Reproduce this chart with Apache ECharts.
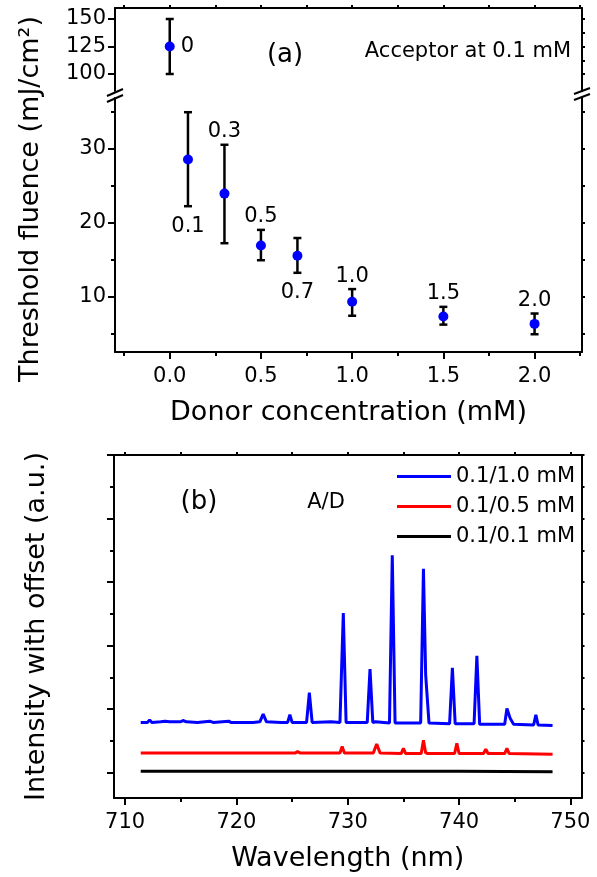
<!DOCTYPE html>
<html>
<head>
<meta charset="utf-8">
<script src="https://cdn.jsdelivr.net/npm/echarts@6/dist/echarts.min.js"></script>
<style>
  html, body { margin: 0; padding: 0; background: #fff; }
  #chart { width: 597px; height: 877px; }
</style>
</head>
<body>
<div id="chart"></div>
<script>
const FONT = 'DejaVu Sans';

// panel (a): threshold fluence vs donor concentration
const donor = [0, 0.1, 0.3, 0.5, 0.7, 1.0, 1.5, 2.0];
const fluence = [125, 28.5, 23.9, 16.9, 15.5, 9.3, 7.3, 6.3];
const errLow = [100, 22.2, 17.2, 14.9, 13.2, 7.4, 6.2, 4.9];
const errHigh = [150, 34.9, 30.5, 19.0, 17.9, 11.0, 8.6, 7.7];
const pointLabels = ['0', '0.1', '0.3', '0.5', '0.7', '1.0', '1.5', '2.0'];
const labelSide = ['right', 'bottom', 'top', 'top', 'bottom', 'top', 'top', 'top'];

const aXTicks = [0, 0.5, 1.0, 1.5, 2.0];
const aXMinor = [-0.25, 0.25, 0.75, 1.25, 1.75, 2.25];
const aXTop = [-0.25, 0, 0.25, 0.5, 0.75, 1.0, 1.25, 1.5, 1.75, 2.0, 2.25];
const aYUpperTicks = [100, 125, 150];
const aYUpperRight = [100, 112.5, 125, 137.5, 150];
const aYLowerTicks = [10, 20, 30];
const aYLowerMinor = [5, 15, 25, 35];
const aYLowerRight = [5, 10, 15, 20, 25, 30, 35];

// panel (b): emission spectra, [wavelength nm, intensity with offset]
const spec10 = [
  [711.4, 0.79], [712.0, 0.79], [712.2, 0.83], [712.4, 0.79], [713.2, 0.80], [713.6, 0.81],
  [714.0, 0.80], [715.0, 0.80], [715.2, 0.82], [715.5, 0.80], [716.5, 0.79], [717.6, 0.81],
  [717.9, 0.79], [719.3, 0.81], [719.5, 0.79], [720.5, 0.79], [721.5, 0.79], [722.1, 0.80],
  [722.4, 0.92], [722.7, 0.80], [724.0, 0.79], [724.6, 0.79], [724.8, 0.91], [725.0, 0.79],
  [726.3, 0.79], [726.55, 1.26], [726.8, 0.79], [728.5, 0.80], [729.3, 0.79], [729.6, 2.51],
  [729.85, 0.79], [731.75, 0.79], [732.0, 1.63], [732.25, 0.79], [732.5, 0.80], [733.75, 0.78],
  [734.0, 3.42], [734.25, 0.78], [736.55, 0.78], [736.8, 3.21], [737.0, 1.54], [737.3, 0.78],
  [739.15, 0.77], [739.4, 1.65], [739.65, 0.77], [741.35, 0.77], [741.6, 1.84], [741.85, 0.76],
  [744.1, 0.76], [744.3, 1.01], [744.6, 0.85], [744.9, 0.76], [746.7, 0.75], [746.9, 0.91],
  [747.1, 0.75], [748.4, 0.74]
];
const spec05 = [
  [711.4, 0.31], [715.0, 0.31], [720.0, 0.31], [725.3, 0.31], [725.5, 0.33], [725.7, 0.31],
  [727.9, 0.31], [728.0, 0.32], [728.2, 0.31], [729.3, 0.31], [729.5, 0.41], [729.7, 0.31],
  [732.3, 0.31], [732.6, 0.45], [732.9, 0.31], [734.8, 0.30], [735.0, 0.38], [735.2, 0.30],
  [736.6, 0.30], [736.8, 0.51], [737.0, 0.31], [737.2, 0.30], [739.6, 0.30], [739.8, 0.46],
  [740.0, 0.30], [742.2, 0.30], [742.4, 0.37], [742.6, 0.30], [744.1, 0.30], [744.3, 0.38],
  [744.5, 0.30], [748.4, 0.29]
];
const spec01 = [[711.4, 0.02], [720.0, 0.02], [730.0, 0.02], [740.0, 0.02], [748.4, 0.015]];
const specNames = ['0.1/1.0 mM', '0.1/0.5 mM', '0.1/0.1 mM'];
const specColors = ['#0000ff', '#ff0000', '#000000'];

const bXTicks = [710, 720, 730, 740, 750];
const bXMinor = [715, 725, 735, 745];
const bXTop = [710, 715, 720, 725, 730, 735, 740, 745, 750];
const bYTicks = [0, 1, 2, 3, 4, 5];
const bYMinor = [0.5, 1.5, 2.5, 3.5, 4.5];
const bYRight = [0, 0.5, 1, 1.5, 2, 2.5, 3, 3.5, 4, 4.5, 5];

function errData(idx) {
  return idx.map(i => [donor[i], errLow[i], errHigh[i], fluence[i], i]);
}

function drawErr(params, api) {
  const i = api.value(4);
  const lo = api.coord([api.value(0), api.value(1)]);
  const hi = api.coord([api.value(0), api.value(2)]);
  const mid = api.coord([api.value(0), api.value(3)]);
  const w = 4;
  const st = { stroke: '#000', lineWidth: 2.5 };
  let tx, ty, align = 'center';
  if (labelSide[i] === 'top') { tx = hi[0]; ty = hi[1] - 13; }
  else if (labelSide[i] === 'bottom') { tx = lo[0]; ty = lo[1] + 20; }
  else { tx = mid[0] + 11; ty = mid[1]; align = 'left'; }
  return {
    type: 'group',
    children: [
      { type: 'line', shape: { x1: lo[0], y1: lo[1], x2: hi[0], y2: hi[1] }, style: st },
      { type: 'line', shape: { x1: lo[0] - w, y1: lo[1], x2: lo[0] + w, y2: lo[1] }, style: st },
      { type: 'line', shape: { x1: hi[0] - w, y1: hi[1], x2: hi[0] + w, y2: hi[1] }, style: st },
      {
        type: 'text', x: tx, y: ty,
        style: {
          text: pointLabels[i], fill: '#000', font: '21px ' + FONT,
          align: align, textAlign: align, verticalAlign: 'middle', textVerticalAlign: 'middle'
        }
      }
    ]
  };
}

const line = { show: true, onZero: false, lineStyle: { color: '#000', width: 2 } };
const noLine = { show: false, onZero: false };

function axis(grid, pos, min, max, ticks, len, labels, showLine, margin) {
  return {
    type: 'value', gridIndex: grid, position: pos, min: min, max: max,
    axisLine: showLine ? line : noLine,
    splitLine: { show: false },
    axisTick: ticks ? { show: true, customValues: ticks, length: len, lineStyle: { color: '#000', width: 2 } } : { show: false },
    axisLabel: labels ? { show: true, customValues: labels, color: '#000', fontSize: 21, fontFamily: FONT, margin: margin } : { show: false }
  };
}

const aXMin = -0.3, aXMax = 2.26;

const xAxes = [
  axis(0, 'top', aXMin, aXMax, aXTop, 3, null, true),             // 0 upper top border
  axis(1, 'bottom', aXMin, aXMax, aXTicks, 7, aXTicks, true, 14), // 1 lower bottom
  axis(1, 'bottom', aXMin, aXMax, aXMinor, 4, null, false),       // 2 lower minor
  axis(2, 'bottom', 709, 751, bXTicks, 7, bXTicks, true, 14),     // 3 (b) bottom
  axis(2, 'bottom', 709, 751, bXMinor, 4, null, false),           // 4 (b) minor
  axis(2, 'top', 709, 751, bXTop, 3, null, true)                  // 5 (b) top border
];
xAxes[1].axisLabel.formatter = v => Number(v).toFixed(1);
xAxes[1].name = 'Donor concentration (mM)';
xAxes[3].name = 'Wavelength (nm)';
[xAxes[1], xAxes[3]].forEach(a => {
  a.nameLocation = 'middle';
  a.nameGap = 47;
  a.nameTextStyle = { color: '#000', fontSize: 27, fontFamily: FONT };
});

const yAxes = [
  axis(0, 'left', 84.55, 160, aYUpperTicks, 7, aYUpperTicks, true, 9),  // 0
  axis(0, 'right', 84.55, 160, aYUpperRight, 3, null, true),            // 1
  axis(1, 'left', 2.5, 36.82, aYLowerTicks, 7, aYLowerTicks, true, 9),  // 2
  axis(1, 'left', 2.5, 36.82, aYLowerMinor, 4, null, false),            // 3
  axis(1, 'right', 2.5, 36.82, aYLowerRight, 3, null, true),            // 4
  axis(2, 'left', -0.4, 5, bYTicks, 7, null, true),                     // 5
  axis(2, 'left', -0.4, 5, bYMinor, 4, null, false),                    // 6
  axis(2, 'right', -0.4, 5, bYRight, 3, null, true)                     // 7
];
yAxes[5].name = 'Intensity with offset (a.u.)';
yAxes[5].nameLocation = 'middle';
yAxes[5].nameGap = 64;
yAxes[5].nameTextStyle = { color: '#000', fontSize: 27, fontFamily: FONT };

const dot = { color: '#0000ff', opacity: 1 };

const option = {
  backgroundColor: '#fff',
  animation: false,
  textStyle: { fontFamily: FONT },
  grid: [
    { left: 115, right: 15, top: 8, height: 83, outerBoundsMode: 'none' },
    { left: 115, right: 15, top: 98, height: 254, outerBoundsMode: 'none' },
    { left: 114, right: 15.5, top: 455, height: 343, outerBoundsMode: 'none' }
  ],
  xAxis: xAxes,
  yAxis: yAxes,
  legend: {
    orient: 'vertical', left: 392, top: 461, itemWidth: 54, itemHeight: 3, itemGap: 9,
    icon: 'rect', data: specNames,
    textStyle: { color: '#000', fontSize: 21, lineHeight: 21, fontFamily: FONT }
  },
  graphic: [
    { type: 'text', x: 31, y: 199, rotation: Math.PI / 2,
      style: { text: 'Threshold fluence (mJ/cm²)', font: '27px ' + FONT, fill: '#000', align: 'center', textAlign: 'center', verticalAlign: 'middle', textVerticalAlign: 'middle' } },
    { type: 'text', x: 285, y: 55,
      style: { text: '(a)', font: '26px ' + FONT, fill: '#000', align: 'center', textAlign: 'center', verticalAlign: 'middle', textVerticalAlign: 'middle' } },
    { type: 'text', x: 571, y: 52,
      style: { text: 'Acceptor at 0.1 mM', font: '21px ' + FONT, fill: '#000', align: 'right', textAlign: 'right', verticalAlign: 'middle', textVerticalAlign: 'middle' } },
    { type: 'text', x: 199, y: 502,
      style: { text: '(b)', font: '26px ' + FONT, fill: '#000', align: 'center', textAlign: 'center', verticalAlign: 'middle', textVerticalAlign: 'middle' } },
    { type: 'text', x: 326, y: 503,
      style: { text: 'A/D', font: '21px ' + FONT, fill: '#000', align: 'center', textAlign: 'center', verticalAlign: 'middle', textVerticalAlign: 'middle' } },
    // axis break marks
    { type: 'line', shape: { x1: 107, y1: 96, x2: 123, y2: 89 }, style: { stroke: '#000', lineWidth: 2 } },
    { type: 'line', shape: { x1: 107, y1: 102, x2: 123, y2: 95 }, style: { stroke: '#000', lineWidth: 2 } },
    { type: 'line', shape: { x1: 574, y1: 94, x2: 590, y2: 88 }, style: { stroke: '#000', lineWidth: 2 } },
    { type: 'line', shape: { x1: 574, y1: 100, x2: 590, y2: 94 }, style: { stroke: '#000', lineWidth: 2 } }
  ],
  series: [
    { type: 'custom', xAxisIndex: 0, yAxisIndex: 0, renderItem: drawErr, data: errData([0]), clip: false, z: 2 },
    { type: 'custom', xAxisIndex: 1, yAxisIndex: 2, renderItem: drawErr, data: errData([1, 2, 3, 4, 5, 6, 7]), clip: false, z: 2 },
    { type: 'scatter', xAxisIndex: 0, yAxisIndex: 0, symbolSize: 10, itemStyle: dot, z: 3,
      data: [[donor[0], fluence[0]]] },
    { type: 'scatter', xAxisIndex: 1, yAxisIndex: 2, symbolSize: 10, itemStyle: dot, z: 3,
      data: donor.slice(1).map((d, k) => [d, fluence[k + 1]]) },
    ...[spec10, spec05, spec01].map((d, k) => ({
      name: specNames[k], type: 'line', xAxisIndex: 3, yAxisIndex: 5, data: d,
      showSymbol: false, symbol: 'none', color: specColors[k],
      lineStyle: { color: specColors[k], width: 3 }, z: 3 - k
    }))
  ]
};

const chart = echarts.init(document.getElementById('chart'));
chart.setOption(option);
</script>
</body>
</html>
